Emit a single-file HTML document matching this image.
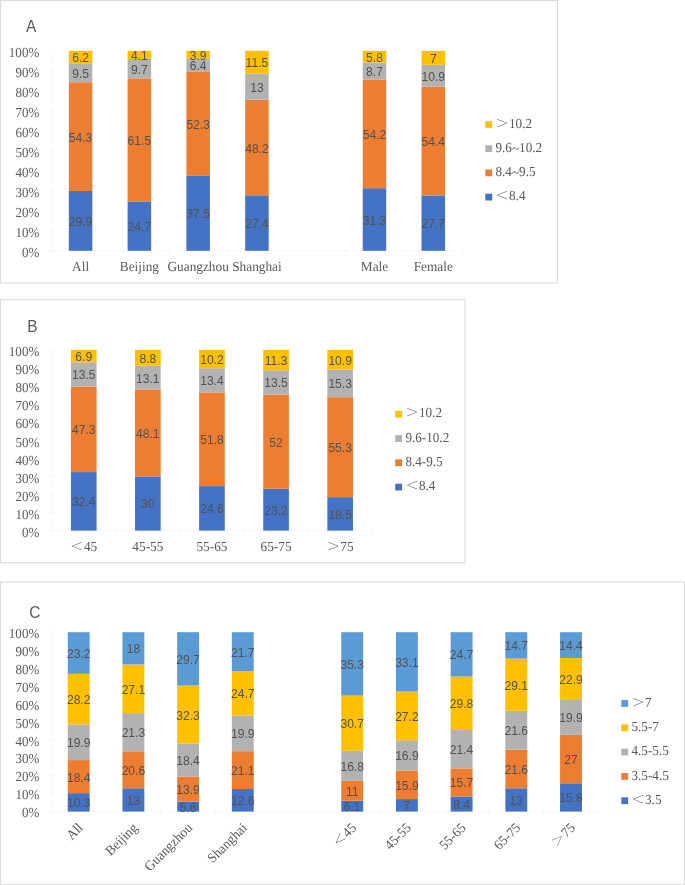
<!DOCTYPE html>
<html lang="en"><head><meta charset="utf-8"><title>Figure</title>
<style>html,body{margin:0;padding:0;background:#fff}body{width:685px;height:885px;overflow:hidden}svg{display:block}</style>
</head><body>
<svg width="685" height="885" viewBox="0 0 685 885" style="will-change:transform">
<rect width="685" height="885" fill="#fff"/>
<g>
<rect x="0.6" y="0.6" width="557" height="282.4" fill="#fff" stroke="#d9d9d9" stroke-width="1"/>
<text transform="translate(26,32.2) scale(0.95,1)" font-family='"Liberation Sans", sans-serif' font-size="16.3" fill="#595959">A</text>
<g stroke="#f7f7f7" stroke-width="1" fill="none">
<line x1="51.7" y1="50.8" x2="51.7" y2="254.8"/>
<line x1="47.7" y1="250.8" x2="462.66" y2="250.8"/>
<line x1="47.7" y1="250.8" x2="55.7" y2="250.8"/>
<line x1="47.7" y1="230.8" x2="55.7" y2="230.8"/>
<line x1="47.7" y1="210.8" x2="55.7" y2="210.8"/>
<line x1="47.7" y1="190.8" x2="55.7" y2="190.8"/>
<line x1="47.7" y1="170.8" x2="55.7" y2="170.8"/>
<line x1="47.7" y1="150.8" x2="55.7" y2="150.8"/>
<line x1="47.7" y1="130.8" x2="55.7" y2="130.8"/>
<line x1="47.7" y1="110.8" x2="55.7" y2="110.8"/>
<line x1="47.7" y1="90.8" x2="55.7" y2="90.8"/>
<line x1="47.7" y1="70.8" x2="55.7" y2="70.8"/>
<line x1="47.7" y1="50.8" x2="55.7" y2="50.8"/>
<line x1="109.98" y1="247.8" x2="109.98" y2="254.8"/>
<line x1="168.76" y1="247.8" x2="168.76" y2="254.8"/>
<line x1="227.54" y1="247.8" x2="227.54" y2="254.8"/>
<line x1="286.32" y1="247.8" x2="286.32" y2="254.8"/>
<line x1="345.1" y1="247.8" x2="345.1" y2="254.8"/>
<line x1="403.88" y1="247.8" x2="403.88" y2="254.8"/>
<line x1="462.66" y1="247.8" x2="462.66" y2="254.8"/>
</g>
<g font-family='"Liberation Serif", "Noto Serif CJK SC", serif' font-size="13.8" fill="#595959" text-rendering="geometricPrecision">
<text transform="translate(39.3,257.1) scale(0.9457,1)" text-anchor="end">0%</text>
<text transform="translate(39.3,237.1) scale(0.9457,1)" text-anchor="end">10%</text>
<text transform="translate(39.3,217.1) scale(0.9457,1)" text-anchor="end">20%</text>
<text transform="translate(39.3,197.1) scale(0.9457,1)" text-anchor="end">30%</text>
<text transform="translate(39.3,177.1) scale(0.9457,1)" text-anchor="end">40%</text>
<text transform="translate(39.3,157.1) scale(0.9457,1)" text-anchor="end">50%</text>
<text transform="translate(39.3,137.1) scale(0.9457,1)" text-anchor="end">60%</text>
<text transform="translate(39.3,117.1) scale(0.9457,1)" text-anchor="end">70%</text>
<text transform="translate(39.3,97.1) scale(0.9457,1)" text-anchor="end">80%</text>
<text transform="translate(39.3,77.1) scale(0.9457,1)" text-anchor="end">90%</text>
<text transform="translate(39.3,57.1) scale(0.9457,1)" text-anchor="end">100%</text>
</g>
<rect x="68.83" y="190.94" width="23.51" height="59.86" fill="#4472C4"/>
<rect x="68.83" y="82.23" width="23.51" height="108.71" fill="#ED7D31"/>
<rect x="68.83" y="63.21" width="23.51" height="19.02" fill="#B2B2B2"/>
<rect x="68.83" y="50.8" width="23.51" height="12.41" fill="#FFC000"/>
<rect x="127.61" y="201.4" width="23.51" height="49.4" fill="#4472C4"/>
<rect x="127.61" y="78.4" width="23.51" height="123" fill="#ED7D31"/>
<rect x="127.61" y="59" width="23.51" height="19.4" fill="#B2B2B2"/>
<rect x="127.61" y="50.8" width="23.51" height="8.2" fill="#FFC000"/>
<rect x="186.39" y="175.87" width="23.51" height="74.93" fill="#4472C4"/>
<rect x="186.39" y="71.38" width="23.51" height="104.5" fill="#ED7D31"/>
<rect x="186.39" y="58.59" width="23.51" height="12.79" fill="#B2B2B2"/>
<rect x="186.39" y="50.8" width="23.51" height="7.79" fill="#FFC000"/>
<rect x="245.17" y="196.05" width="23.51" height="54.75" fill="#4472C4"/>
<rect x="245.17" y="99.75" width="23.51" height="96.3" fill="#ED7D31"/>
<rect x="245.17" y="73.78" width="23.51" height="25.97" fill="#B2B2B2"/>
<rect x="245.17" y="50.8" width="23.51" height="22.98" fill="#FFC000"/>
<rect x="362.73" y="188.2" width="23.51" height="62.6" fill="#4472C4"/>
<rect x="362.73" y="79.8" width="23.51" height="108.4" fill="#ED7D31"/>
<rect x="362.73" y="62.4" width="23.51" height="17.4" fill="#B2B2B2"/>
<rect x="362.73" y="50.8" width="23.51" height="11.6" fill="#FFC000"/>
<rect x="421.51" y="195.4" width="23.51" height="55.4" fill="#4472C4"/>
<rect x="421.51" y="86.6" width="23.51" height="108.8" fill="#ED7D31"/>
<rect x="421.51" y="64.8" width="23.51" height="21.8" fill="#B2B2B2"/>
<rect x="421.51" y="50.8" width="23.51" height="14" fill="#FFC000"/>
<g font-family='"Liberation Sans", sans-serif' font-size="12.1" fill="#525252" text-anchor="middle">
<text x="80.59" y="225.87">29.9</text>
<text x="80.59" y="141.59">54.3</text>
<text x="80.59" y="77.72">9.5</text>
<text x="80.59" y="62.01">6.2</text>
<text x="139.37" y="231.1">24.7</text>
<text x="139.37" y="144.9">61.5</text>
<text x="139.37" y="73.7">9.7</text>
<text x="139.37" y="59.9">4.1</text>
<text x="198.15" y="218.34">37.5</text>
<text x="198.15" y="128.63">52.3</text>
<text x="198.15" y="69.99">6.4</text>
<text x="198.15" y="59.7">3.9</text>
<text x="256.93" y="228.43">27.4</text>
<text x="256.93" y="152.9">48.2</text>
<text x="256.93" y="91.76">13</text>
<text x="256.93" y="67.29">11.5</text>
<text x="374.49" y="224.5">31.3</text>
<text x="374.49" y="139">54.2</text>
<text x="374.49" y="76.1">8.7</text>
<text x="374.49" y="61.6">5.8</text>
<text x="433.27" y="228.1">27.7</text>
<text x="433.27" y="146">54.4</text>
<text x="433.27" y="80.7">10.9</text>
<text x="433.27" y="62.8">7</text>
</g>
<g font-family='"Liberation Serif", "Noto Serif CJK SC", serif' font-size="13.8" fill="#595959" text-rendering="geometricPrecision">
<text transform="translate(80.59,271.4) scale(0.9638,1)" text-anchor="middle">All</text>
<text transform="translate(139.37,271.4) scale(0.9638,1)" text-anchor="middle">Beijing</text>
<text transform="translate(198.15,271.4) scale(0.9638,1)" text-anchor="middle">Guangzhou</text>
<text transform="translate(256.93,271.4) scale(0.9638,1)" text-anchor="middle">Shanghai</text>
<text transform="translate(374.49,271.4) scale(0.9638,1)" text-anchor="middle">Male</text>
<text transform="translate(433.27,271.4) scale(0.9638,1)" text-anchor="middle">Female</text>
</g>
<g font-family='"Liberation Serif", "Noto Serif CJK SC", serif' font-size="13.8" fill="#595959" text-rendering="geometricPrecision">
<rect x="485.3" y="121.1" width="6.9" height="6.8" fill="#FFC000"/>
<text transform="translate(495.5,123) scale(0.9529,0.766)" y="4.83">＞</text>
<text transform="translate(509.05,127.6) scale(0.9529,1)">10.2</text>
<rect x="485.3" y="145.3" width="6.9" height="6.8" fill="#B2B2B2"/>
<text transform="translate(495.5,151.8) scale(0.9529,1)">9.6<tspan dy="1.3">~</tspan><tspan dy="-1.3">10.2</tspan></text>
<rect x="485.3" y="169.5" width="6.9" height="6.8" fill="#ED7D31"/>
<text transform="translate(495.5,176) scale(0.9529,1)">8.4<tspan dy="1.3">~</tspan><tspan dy="-1.3">9.5</tspan></text>
<rect x="485.3" y="193.7" width="6.9" height="6.8" fill="#4472C4"/>
<text transform="translate(495.5,195.6) scale(0.9529,0.766)" y="4.83">＜</text>
<text transform="translate(509.05,200.2) scale(0.9529,1)">8.4</text>
</g>
</g>
<g>
<rect x="0.6" y="299.7" width="464.4" height="263" fill="#fff" stroke="#d9d9d9" stroke-width="1"/>
<text transform="translate(27.3,332) scale(0.95,1)" font-family='"Liberation Sans", sans-serif' font-size="16.3" fill="#595959">B</text>
<g stroke="#f7f7f7" stroke-width="1" fill="none">
<line x1="51.7" y1="349.8" x2="51.7" y2="534.6"/>
<line x1="47.7" y1="530.6" x2="372.2" y2="530.6"/>
<line x1="47.7" y1="530.6" x2="55.7" y2="530.6"/>
<line x1="47.7" y1="512.52" x2="55.7" y2="512.52"/>
<line x1="47.7" y1="494.44" x2="55.7" y2="494.44"/>
<line x1="47.7" y1="476.36" x2="55.7" y2="476.36"/>
<line x1="47.7" y1="458.28" x2="55.7" y2="458.28"/>
<line x1="47.7" y1="440.2" x2="55.7" y2="440.2"/>
<line x1="47.7" y1="422.12" x2="55.7" y2="422.12"/>
<line x1="47.7" y1="404.04" x2="55.7" y2="404.04"/>
<line x1="47.7" y1="385.96" x2="55.7" y2="385.96"/>
<line x1="47.7" y1="367.88" x2="55.7" y2="367.88"/>
<line x1="47.7" y1="349.8" x2="55.7" y2="349.8"/>
<line x1="115.8" y1="527.6" x2="115.8" y2="534.6"/>
<line x1="179.9" y1="527.6" x2="179.9" y2="534.6"/>
<line x1="244" y1="527.6" x2="244" y2="534.6"/>
<line x1="308.1" y1="527.6" x2="308.1" y2="534.6"/>
<line x1="372.2" y1="527.6" x2="372.2" y2="534.6"/>
</g>
<g font-family='"Liberation Serif", "Noto Serif CJK SC", serif' font-size="13.8" fill="#595959" text-rendering="geometricPrecision">
<text transform="translate(39.3,536.9) scale(0.9457,1)" text-anchor="end">0%</text>
<text transform="translate(39.3,518.82) scale(0.9457,1)" text-anchor="end">10%</text>
<text transform="translate(39.3,500.74) scale(0.9457,1)" text-anchor="end">20%</text>
<text transform="translate(39.3,482.66) scale(0.9457,1)" text-anchor="end">30%</text>
<text transform="translate(39.3,464.58) scale(0.9457,1)" text-anchor="end">40%</text>
<text transform="translate(39.3,446.5) scale(0.9457,1)" text-anchor="end">50%</text>
<text transform="translate(39.3,428.42) scale(0.9457,1)" text-anchor="end">60%</text>
<text transform="translate(39.3,410.34) scale(0.9457,1)" text-anchor="end">70%</text>
<text transform="translate(39.3,392.26) scale(0.9457,1)" text-anchor="end">80%</text>
<text transform="translate(39.3,374.18) scale(0.9457,1)" text-anchor="end">90%</text>
<text transform="translate(39.3,356.1) scale(0.9457,1)" text-anchor="end">100%</text>
</g>
<rect x="70.93" y="472.08" width="25.64" height="58.52" fill="#4472C4"/>
<rect x="70.93" y="386.65" width="25.64" height="85.43" fill="#ED7D31"/>
<rect x="70.93" y="362.26" width="25.64" height="24.38" fill="#B2B2B2"/>
<rect x="70.93" y="349.8" width="25.64" height="12.46" fill="#FFC000"/>
<rect x="135.03" y="476.36" width="25.64" height="54.24" fill="#4472C4"/>
<rect x="135.03" y="389.4" width="25.64" height="86.96" fill="#ED7D31"/>
<rect x="135.03" y="365.71" width="25.64" height="23.68" fill="#B2B2B2"/>
<rect x="135.03" y="349.8" width="25.64" height="15.91" fill="#FFC000"/>
<rect x="199.13" y="486.12" width="25.64" height="44.48" fill="#4472C4"/>
<rect x="199.13" y="392.47" width="25.64" height="93.65" fill="#ED7D31"/>
<rect x="199.13" y="368.24" width="25.64" height="24.23" fill="#B2B2B2"/>
<rect x="199.13" y="349.8" width="25.64" height="18.44" fill="#FFC000"/>
<rect x="263.23" y="488.65" width="25.64" height="41.95" fill="#4472C4"/>
<rect x="263.23" y="394.64" width="25.64" height="94.02" fill="#ED7D31"/>
<rect x="263.23" y="370.23" width="25.64" height="24.41" fill="#B2B2B2"/>
<rect x="263.23" y="349.8" width="25.64" height="20.43" fill="#FFC000"/>
<rect x="327.33" y="497.15" width="25.64" height="33.45" fill="#4472C4"/>
<rect x="327.33" y="397.17" width="25.64" height="99.98" fill="#ED7D31"/>
<rect x="327.33" y="369.51" width="25.64" height="27.66" fill="#B2B2B2"/>
<rect x="327.33" y="349.8" width="25.64" height="19.71" fill="#FFC000"/>
<g font-family='"Liberation Sans", sans-serif' font-size="12.1" fill="#525252" text-anchor="middle">
<text x="83.75" y="506.34">32.4</text>
<text x="83.75" y="434.36">47.3</text>
<text x="83.75" y="379.45">13.5</text>
<text x="83.75" y="361.03">6.9</text>
<text x="147.85" y="508.48">30</text>
<text x="147.85" y="437.88">48.1</text>
<text x="147.85" y="382.55">13.1</text>
<text x="147.85" y="362.76">8.8</text>
<text x="211.95" y="513.36">24.6</text>
<text x="211.95" y="444.3">51.8</text>
<text x="211.95" y="385.36">13.4</text>
<text x="211.95" y="364.02">10.2</text>
<text x="276.05" y="514.63">23.2</text>
<text x="276.05" y="446.65">52</text>
<text x="276.05" y="387.43">13.5</text>
<text x="276.05" y="365.02">11.3</text>
<text x="340.15" y="518.88">18.5</text>
<text x="340.15" y="452.16">55.3</text>
<text x="340.15" y="388.34">15.3</text>
<text x="340.15" y="364.65">10.9</text>
</g>
<g font-family='"Liberation Serif", "Noto Serif CJK SC", serif' font-size="13.8" fill="#595959" text-rendering="geometricPrecision">
<text transform="translate(70.25,546.6) scale(0.9638,0.766)" y="4.83">＜</text>
<text transform="translate(83.95,551.2) scale(0.9638,1)">45</text>
<text transform="translate(147.85,551.2) scale(0.9638,1)" text-anchor="middle">45-55</text>
<text transform="translate(211.95,551.2) scale(0.9638,1)" text-anchor="middle">55-65</text>
<text transform="translate(276.05,551.2) scale(0.9638,1)" text-anchor="middle">65-75</text>
<text transform="translate(326.65,546.6) scale(0.9638,0.766)" y="4.83">＞</text>
<text transform="translate(340.35,551.2) scale(0.9638,1)">75</text>
</g>
<g font-family='"Liberation Serif", "Noto Serif CJK SC", serif' font-size="13.8" fill="#595959" text-rendering="geometricPrecision">
<rect x="395.2" y="410.8" width="6.9" height="6.8" fill="#FFC000"/>
<text transform="translate(405.4,412.7) scale(0.9529,0.766)" y="4.83">＞</text>
<text transform="translate(418.95,417.3) scale(0.9529,1)">10.2</text>
<rect x="395.2" y="435.1" width="6.9" height="6.8" fill="#B2B2B2"/>
<text transform="translate(405.4,441.6) scale(0.9529,1)">9.6-10.2</text>
<rect x="395.2" y="459.4" width="6.9" height="6.8" fill="#ED7D31"/>
<text transform="translate(405.4,465.9) scale(0.9529,1)">8.4-9.5</text>
<rect x="395.2" y="483.7" width="6.9" height="6.8" fill="#4472C4"/>
<text transform="translate(405.4,485.6) scale(0.9529,0.766)" y="4.83">＜</text>
<text transform="translate(418.95,490.2) scale(0.9529,1)">8.4</text>
</g>
</g>
<g>
<rect x="0.6" y="582" width="683.9" height="302.3" fill="#fff" stroke="#d9d9d9" stroke-width="1"/>
<text transform="translate(29.3,618.2) scale(0.95,1)" font-family='"Liberation Sans", sans-serif' font-size="16.3" fill="#595959">C</text>
<g stroke="#f7f7f7" stroke-width="1" fill="none">
<line x1="51.7" y1="632.2" x2="51.7" y2="815.6"/>
<line x1="47.7" y1="811.6" x2="598.35" y2="811.6"/>
<line x1="47.7" y1="811.6" x2="55.7" y2="811.6"/>
<line x1="47.7" y1="793.66" x2="55.7" y2="793.66"/>
<line x1="47.7" y1="775.72" x2="55.7" y2="775.72"/>
<line x1="47.7" y1="757.78" x2="55.7" y2="757.78"/>
<line x1="47.7" y1="739.84" x2="55.7" y2="739.84"/>
<line x1="47.7" y1="721.9" x2="55.7" y2="721.9"/>
<line x1="47.7" y1="703.96" x2="55.7" y2="703.96"/>
<line x1="47.7" y1="686.02" x2="55.7" y2="686.02"/>
<line x1="47.7" y1="668.08" x2="55.7" y2="668.08"/>
<line x1="47.7" y1="650.14" x2="55.7" y2="650.14"/>
<line x1="47.7" y1="632.2" x2="55.7" y2="632.2"/>
<line x1="106.05" y1="808.6" x2="106.05" y2="815.6"/>
<line x1="160.75" y1="808.6" x2="160.75" y2="815.6"/>
<line x1="215.45" y1="808.6" x2="215.45" y2="815.6"/>
<line x1="270.15" y1="808.6" x2="270.15" y2="815.6"/>
<line x1="324.85" y1="808.6" x2="324.85" y2="815.6"/>
<line x1="379.55" y1="808.6" x2="379.55" y2="815.6"/>
<line x1="434.25" y1="808.6" x2="434.25" y2="815.6"/>
<line x1="488.95" y1="808.6" x2="488.95" y2="815.6"/>
<line x1="543.65" y1="808.6" x2="543.65" y2="815.6"/>
<line x1="598.35" y1="808.6" x2="598.35" y2="815.6"/>
</g>
<g font-family='"Liberation Serif", "Noto Serif CJK SC", serif' font-size="13.8" fill="#595959" text-rendering="geometricPrecision">
<text transform="translate(39.3,817.3) scale(0.9457,1)" text-anchor="end">0%</text>
<text transform="translate(39.3,799.36) scale(0.9457,1)" text-anchor="end">10%</text>
<text transform="translate(39.3,781.42) scale(0.9457,1)" text-anchor="end">20%</text>
<text transform="translate(39.3,763.48) scale(0.9457,1)" text-anchor="end">30%</text>
<text transform="translate(39.3,745.54) scale(0.9457,1)" text-anchor="end">40%</text>
<text transform="translate(39.3,727.6) scale(0.9457,1)" text-anchor="end">50%</text>
<text transform="translate(39.3,709.66) scale(0.9457,1)" text-anchor="end">60%</text>
<text transform="translate(39.3,691.72) scale(0.9457,1)" text-anchor="end">70%</text>
<text transform="translate(39.3,673.78) scale(0.9457,1)" text-anchor="end">80%</text>
<text transform="translate(39.3,655.84) scale(0.9457,1)" text-anchor="end">90%</text>
<text transform="translate(39.3,637.9) scale(0.9457,1)" text-anchor="end">100%</text>
</g>
<rect x="67.76" y="793.12" width="21.88" height="18.48" fill="#4472C4"/>
<rect x="67.76" y="760.11" width="21.88" height="33.01" fill="#ED7D31"/>
<rect x="67.76" y="724.41" width="21.88" height="35.7" fill="#B2B2B2"/>
<rect x="67.76" y="673.82" width="21.88" height="50.59" fill="#FFC000"/>
<rect x="67.76" y="632.2" width="21.88" height="41.62" fill="#5B9BD5"/>
<rect x="122.46" y="788.28" width="21.88" height="23.32" fill="#4472C4"/>
<rect x="122.46" y="751.32" width="21.88" height="36.96" fill="#ED7D31"/>
<rect x="122.46" y="713.11" width="21.88" height="38.21" fill="#B2B2B2"/>
<rect x="122.46" y="664.49" width="21.88" height="48.62" fill="#FFC000"/>
<rect x="122.46" y="632.2" width="21.88" height="32.29" fill="#5B9BD5"/>
<rect x="177.16" y="801.54" width="21.88" height="10.06" fill="#4472C4"/>
<rect x="177.16" y="776.58" width="21.88" height="24.96" fill="#ED7D31"/>
<rect x="177.16" y="743.54" width="21.88" height="33.04" fill="#B2B2B2"/>
<rect x="177.16" y="685.54" width="21.88" height="58" fill="#FFC000"/>
<rect x="177.16" y="632.2" width="21.88" height="53.34" fill="#5B9BD5"/>
<rect x="231.86" y="789" width="21.88" height="22.6" fill="#4472C4"/>
<rect x="231.86" y="751.14" width="21.88" height="37.85" fill="#ED7D31"/>
<rect x="231.86" y="715.44" width="21.88" height="35.7" fill="#B2B2B2"/>
<rect x="231.86" y="671.13" width="21.88" height="44.31" fill="#FFC000"/>
<rect x="231.86" y="632.2" width="21.88" height="38.93" fill="#5B9BD5"/>
<rect x="341.26" y="800.65" width="21.88" height="10.95" fill="#4472C4"/>
<rect x="341.26" y="780.89" width="21.88" height="19.75" fill="#ED7D31"/>
<rect x="341.26" y="750.72" width="21.88" height="30.17" fill="#B2B2B2"/>
<rect x="341.26" y="695.59" width="21.88" height="55.13" fill="#FFC000"/>
<rect x="341.26" y="632.2" width="21.88" height="63.39" fill="#5B9BD5"/>
<rect x="395.96" y="799.05" width="21.88" height="12.55" fill="#4472C4"/>
<rect x="395.96" y="770.56" width="21.88" height="28.5" fill="#ED7D31"/>
<rect x="395.96" y="740.27" width="21.88" height="30.29" fill="#B2B2B2"/>
<rect x="395.96" y="691.52" width="21.88" height="48.75" fill="#FFC000"/>
<rect x="395.96" y="632.2" width="21.88" height="59.32" fill="#5B9BD5"/>
<rect x="450.66" y="796.53" width="21.88" height="15.07" fill="#4472C4"/>
<rect x="450.66" y="768.36" width="21.88" height="28.17" fill="#ED7D31"/>
<rect x="450.66" y="729.97" width="21.88" height="38.39" fill="#B2B2B2"/>
<rect x="450.66" y="676.51" width="21.88" height="53.46" fill="#FFC000"/>
<rect x="450.66" y="632.2" width="21.88" height="44.31" fill="#5B9BD5"/>
<rect x="505.36" y="788.28" width="21.88" height="23.32" fill="#4472C4"/>
<rect x="505.36" y="749.53" width="21.88" height="38.75" fill="#ED7D31"/>
<rect x="505.36" y="710.78" width="21.88" height="38.75" fill="#B2B2B2"/>
<rect x="505.36" y="658.57" width="21.88" height="52.21" fill="#FFC000"/>
<rect x="505.36" y="632.2" width="21.88" height="26.37" fill="#5B9BD5"/>
<rect x="560.06" y="783.25" width="21.88" height="28.35" fill="#4472C4"/>
<rect x="560.06" y="734.82" width="21.88" height="48.44" fill="#ED7D31"/>
<rect x="560.06" y="699.12" width="21.88" height="35.7" fill="#B2B2B2"/>
<rect x="560.06" y="658.03" width="21.88" height="41.08" fill="#FFC000"/>
<rect x="560.06" y="632.2" width="21.88" height="25.83" fill="#5B9BD5"/>
<g font-family='"Liberation Sans", sans-serif' font-size="12.1" fill="#525252" text-anchor="middle">
<text x="78.7" y="807.36">10.3</text>
<text x="78.7" y="781.62">18.4</text>
<text x="78.7" y="747.26">19.9</text>
<text x="78.7" y="704.12">28.2</text>
<text x="78.7" y="658.01">23.2</text>
<text x="133.4" y="804.94">13</text>
<text x="133.4" y="774.8">20.6</text>
<text x="133.4" y="737.22">21.3</text>
<text x="133.4" y="693.8">27.1</text>
<text x="133.4" y="653.35">18</text>
<text x="188.1" y="811.57">5.6</text>
<text x="188.1" y="794.06">13.9</text>
<text x="188.1" y="765.06">18.4</text>
<text x="188.1" y="719.54">32.3</text>
<text x="188.1" y="663.87">29.7</text>
<text x="242.8" y="805.3">12.6</text>
<text x="242.8" y="775.07">21.1</text>
<text x="242.8" y="738.29">19.9</text>
<text x="242.8" y="698.29">24.7</text>
<text x="242.8" y="656.66">21.7</text>
<text x="352.2" y="811.12">6.1</text>
<text x="352.2" y="795.77">11</text>
<text x="352.2" y="770.81">16.8</text>
<text x="352.2" y="728.16">30.7</text>
<text x="352.2" y="668.9">35.3</text>
<text x="406.9" y="810.33">7</text>
<text x="406.9" y="789.81">15.9</text>
<text x="406.9" y="760.41">16.9</text>
<text x="406.9" y="720.9">27.2</text>
<text x="406.9" y="666.86">33.1</text>
<text x="461.6" y="809.07">8.4</text>
<text x="461.6" y="787.45">15.7</text>
<text x="461.6" y="754.17">21.4</text>
<text x="461.6" y="708.24">29.8</text>
<text x="461.6" y="659.36">24.7</text>
<text x="516.3" y="804.94">13</text>
<text x="516.3" y="773.9">21.6</text>
<text x="516.3" y="735.15">21.6</text>
<text x="516.3" y="689.67">29.1</text>
<text x="516.3" y="650.39">14.7</text>
<text x="571" y="802.43">15.8</text>
<text x="571" y="764.04">27</text>
<text x="571" y="721.97">19.9</text>
<text x="571" y="683.57">22.9</text>
<text x="571" y="650.12">14.4</text>
</g>
<g font-family='"Liberation Serif", "Noto Serif CJK SC", serif' font-size="13.8" fill="#595959" text-rendering="geometricPrecision">
<g transform="translate(83.7,828.6) rotate(-45)">
<text transform="translate(0,0) scale(0.9638,1)" text-anchor="end">All</text>
</g>
<g transform="translate(138.4,828.6) rotate(-45)">
<text transform="translate(0,0) scale(0.9638,1)" text-anchor="end">Beijing</text>
</g>
<g transform="translate(193.1,828.6) rotate(-45)">
<text transform="translate(0,0) scale(0.9638,1)" text-anchor="end">Guangzhou</text>
</g>
<g transform="translate(247.8,828.6) rotate(-45)">
<text transform="translate(0,0) scale(0.9638,1)" text-anchor="end">Shanghai</text>
</g>
<g transform="translate(357.2,828.6) rotate(-45)">
<text transform="translate(-27,-4.6) scale(0.9638,0.766)" y="4.83">＜</text>
<text transform="translate(-13.3,0) scale(0.9638,1)">45</text>
</g>
<g transform="translate(411.9,828.6) rotate(-45)">
<text transform="translate(0,0) scale(0.9638,1)" text-anchor="end">45-55</text>
</g>
<g transform="translate(466.6,828.6) rotate(-45)">
<text transform="translate(0,0) scale(0.9638,1)" text-anchor="end">55-65</text>
</g>
<g transform="translate(521.3,828.6) rotate(-45)">
<text transform="translate(0,0) scale(0.9638,1)" text-anchor="end">65-75</text>
</g>
<g transform="translate(576,828.6) rotate(-45)">
<text transform="translate(-27,-4.6) scale(0.9638,0.766)" y="4.83">＞</text>
<text transform="translate(-13.3,0) scale(0.9638,1)">75</text>
</g>
</g>
<g font-family='"Liberation Serif", "Noto Serif CJK SC", serif' font-size="13.8" fill="#595959" text-rendering="geometricPrecision">
<rect x="621.3" y="700.1" width="6.9" height="6.8" fill="#5B9BD5"/>
<text transform="translate(631.5,702) scale(0.9529,0.766)" y="4.83">＞</text>
<text transform="translate(645.05,706.6) scale(0.9529,1)">7</text>
<rect x="621.3" y="724.4" width="6.9" height="6.8" fill="#FFC000"/>
<text transform="translate(631.5,730.9) scale(0.9529,1)">5.5-7</text>
<rect x="621.3" y="748.7" width="6.9" height="6.8" fill="#B2B2B2"/>
<text transform="translate(631.5,755.2) scale(0.9529,1)">4.5-5.5</text>
<rect x="621.3" y="773" width="6.9" height="6.8" fill="#ED7D31"/>
<text transform="translate(631.5,779.5) scale(0.9529,1)">3.5-4.5</text>
<rect x="621.3" y="797.3" width="6.9" height="6.8" fill="#4472C4"/>
<text transform="translate(631.5,799.2) scale(0.9529,0.766)" y="4.83">＜</text>
<text transform="translate(645.05,803.8) scale(0.9529,1)">3.5</text>
</g>
</g>
</svg></body></html>
